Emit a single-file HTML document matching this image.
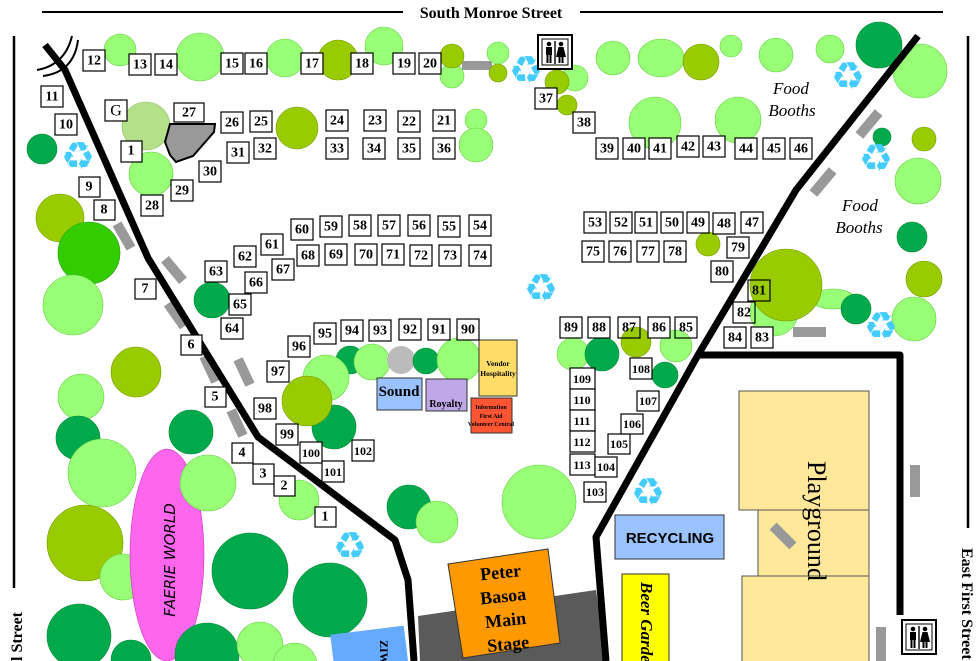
<!DOCTYPE html>
<html><head><meta charset="utf-8"><style>
html,body{margin:0;padding:0;background:#fff;}
svg{display:block;}
.b rect{fill:#fff;stroke:#000;stroke-width:1.2;}
.b text{font-family:"Liberation Serif",serif;font-weight:bold;font-size:14px;text-anchor:middle;dominant-baseline:central;}
.L{fill:#99ff77;stroke:#66cc44;stroke-width:.6}
.O{fill:#99cc00;stroke:#779900;stroke-width:.6}
.D{fill:#00aa4c;stroke:#008833;stroke-width:.6}
.rc{font-family:"DejaVu Sans",sans-serif;fill:#44ccff;font-size:38px;text-anchor:middle;dominant-baseline:central;}
.bench{fill:#999;}
</style></head><body>
<svg width="980" height="661" viewBox="0 0 980 661" xmlns="http://www.w3.org/2000/svg">
<defs>
<g id="wc">
<rect x="0" y="0" width="34" height="34" fill="#fff" stroke="#000" stroke-width="2"/>
<rect x="4" y="4" width="26" height="26" fill="#fff" stroke="#000" stroke-width="1"/>
<circle cx="11" cy="9" r="2.3"/><rect x="8" y="12" width="6" height="8"/><rect x="8.5" y="19" width="2" height="9"/><rect x="11.5" y="19" width="2" height="9"/>
<rect x="16.3" y="6" width="1.4" height="23"/>
<circle cx="23" cy="9" r="2.3"/><polygon points="20.5,12 25.5,12 28,22 18,22"/><rect x="20.5" y="21" width="2" height="7"/><rect x="23.5" y="21" width="2" height="7"/>
</g></defs>
<!-- streets -->
<line x1="42" y1="12" x2="403" y2="12" stroke="#000" stroke-width="2"/>
<line x1="580" y1="12" x2="943" y2="12" stroke="#000" stroke-width="2"/>
<text x="491" y="18" font-family="Liberation Serif,serif" font-weight="bold" font-size="16" text-anchor="middle">South Monroe Street</text>
<line x1="14" y1="36" x2="14" y2="588" stroke="#000" stroke-width="2.5"/>
<text transform="translate(22,661) rotate(-90)" font-family="Liberation Serif,serif" font-weight="bold" font-size="16">l Street</text>
<line x1="968" y1="36" x2="968" y2="528" stroke="#000" stroke-width="2.5"/>
<text transform="translate(962,548) rotate(90)" font-family="Liberation Serif,serif" font-weight="bold" font-size="16">East First Street</text>

<!-- benches -->
<g class="bench">
<rect x="-5" y="-14" width="10" height="28" transform="translate(124,236) rotate(-30)"/>
<rect x="-5" y="-14" width="10" height="28" transform="translate(174,270) rotate(-40)"/>
<rect x="-5" y="-14" width="10" height="28" transform="translate(176,315) rotate(-35)"/>
<rect x="-5" y="-14" width="10" height="28" transform="translate(210,369) rotate(-25)"/>
<rect x="-5" y="-14" width="10" height="28" transform="translate(244,372) rotate(-25)"/>
<rect x="-5" y="-14" width="10" height="28" transform="translate(237,423) rotate(-25)"/>
<rect x="462" y="61" width="30" height="9"/>
<rect x="-5" y="-15" width="10" height="30" transform="translate(869,124) rotate(40)"/>
<rect x="-5" y="-15" width="10" height="30" transform="translate(823,182) rotate(40)"/>
<rect x="793" y="327" width="33" height="10"/>
<rect x="910" y="465" width="10" height="32"/>
<rect x="876" y="627" width="10" height="34"/>
</g>

<!-- trees -->
<g>
<circle class="L" cx="120" cy="50" r="16"/>
<circle class="L" cx="200" cy="57" r="24"/>
<circle class="L" cx="285" cy="58" r="19"/>
<circle class="O" cx="338" cy="60" r="20"/>
<circle class="L" cx="384" cy="46" r="19"/>
<circle class="L" cx="452" cy="76" r="12"/>
<circle class="O" cx="452" cy="56" r="12"/>
<circle class="L" cx="498" cy="53" r="11"/>
<circle class="O" cx="498" cy="73" r="9"/>
<circle class="L" cx="575" cy="78" r="13"/>
<circle class="O" cx="557" cy="82" r="12"/>
<circle class="O" cx="567" cy="105" r="10"/>
<circle class="L" cx="613" cy="58" r="17"/>
<ellipse class="L" cx="661" cy="58" rx="23" ry="19"/>
<circle class="O" cx="701" cy="62" r="18"/>
<circle class="L" cx="731" cy="46" r="11"/>
<circle class="L" cx="776" cy="55" r="17"/>
<circle class="L" cx="830" cy="49" r="14"/>
<circle class="D" cx="879" cy="45" r="23"/>
<circle class="L" cx="920" cy="71" r="27"/>
<circle class="L" cx="655" cy="123" r="26"/>
<circle class="L" cx="738" cy="120" r="23"/>
<circle class="L" cx="476" cy="120" r="11"/>
<circle class="L" cx="476" cy="145" r="17"/>
<circle class="O" cx="297" cy="128" r="21"/>
<circle class="D" cx="882" cy="137" r="9"/>
<circle class="O" cx="924" cy="139" r="12"/>
<circle class="L" cx="918" cy="181" r="23"/>
<circle class="D" cx="912" cy="237" r="15"/>
<circle class="O" cx="924" cy="279" r="18"/>
<ellipse class="L" cx="833" cy="299" rx="22" ry="10"/>
<circle class="L" cx="914" cy="319" r="22"/>
<circle class="L" cx="774" cy="312" r="24"/>
<circle class="O" cx="786" cy="285" r="36"/>
<circle class="D" cx="856" cy="309" r="15"/>
<circle class="O" cx="708" cy="244" r="12"/>
<circle fill="#b5e08a" stroke="#8cbf60" stroke-width=".6" cx="146" cy="126" r="24"/>
<circle class="L" cx="151" cy="174" r="22"/>
<circle class="D" cx="42" cy="149" r="15"/>
<circle class="O" cx="60" cy="218" r="24"/>
<circle fill="#33cc00" stroke="#229900" stroke-width=".6" cx="89" cy="253" r="31"/>
<circle class="L" cx="73" cy="305" r="30"/>
<circle class="D" cx="212" cy="300" r="18"/>
<circle class="O" cx="136" cy="372" r="25"/>
<circle class="L" cx="81" cy="397" r="23"/>
<circle class="D" cx="78" cy="438" r="22"/>
<circle class="L" cx="102" cy="473" r="34"/>
<circle class="D" cx="191" cy="432" r="22"/>
<circle class="O" cx="85" cy="543" r="38"/>
<circle class="L" cx="123" cy="577" r="23"/>
<circle class="D" cx="79" cy="636" r="32"/>
<circle class="D" cx="131" cy="660" r="20"/>
</g>

<!-- faerie world -->
<ellipse cx="167" cy="555" rx="37" ry="106" fill="#ff66ee" stroke="#cc33bb" stroke-width=".6"/>
<circle class="L" cx="208" cy="483" r="28"/>
<text transform="translate(175,560) rotate(-90)" font-family="DejaVu Sans,sans-serif" font-style="italic" font-size="15" text-anchor="middle">FAERIE WORLD</text>
<circle class="D" cx="207" cy="655" r="32"/>
<circle class="D" cx="250" cy="571" r="38"/>
<circle class="L" cx="260" cy="645" r="23"/>
<circle class="L" cx="295" cy="665" r="22"/>
<circle class="D" cx="330" cy="600" r="37"/>
<circle class="L" cx="299" cy="500" r="20"/>
<circle class="D" cx="409" cy="507" r="22"/>
<circle class="L" cx="437" cy="522" r="21"/>
<circle class="L" cx="539" cy="502" r="37"/>
<circle class="D" cx="350" cy="360" r="14"/>
<circle class="L" cx="372" cy="362" r="18"/>
<circle fill="#bbb" cx="401" cy="360" r="14"/>
<circle class="D" cx="426" cy="361" r="13"/>
<circle class="L" cx="459" cy="360" r="22"/>
<circle class="L" cx="326" cy="378" r="23"/>
<circle class="D" cx="334" cy="427" r="22"/>
<circle class="O" cx="307" cy="401" r="25"/>
<circle class="L" cx="573" cy="354" r="16"/>
<circle class="D" cx="602" cy="354" r="17"/>
<circle class="O" cx="636" cy="342" r="15"/>
<circle class="L" cx="676" cy="346" r="16"/>
<circle class="D" cx="665" cy="375" r="13"/>

<!-- ziwa -->
<rect x="-37" y="-25" width="74" height="60" fill="#66aaff" transform="translate(370,655) rotate(-7)"/>
<text transform="translate(380,640) rotate(90)" font-family="Liberation Serif,serif" font-weight="bold" font-size="12">ZIWA</text>

<!-- stage -->
<polygon points="418,616 596,590 606,661 420,661" fill="#5a5a5a"/>
<polygon points="448,564 548,549 560,643 463,658" fill="#ff9900" stroke="#333" stroke-width="1"/>
<g font-family="Liberation Serif,serif" font-weight="bold" font-size="18" text-anchor="middle" transform="rotate(-6 505 605)">
<text x="504" y="578">Peter</text><text x="504" y="602">Basoa</text><text x="504" y="626">Main</text><text x="504" y="650">Stage</text></g>

<!-- paths -->
<g fill="none" stroke="#000" stroke-width="7" stroke-linejoin="round">
<polyline points="45,45 65,70 148,258 258,437 395,540 408,580 414,661"/>
<polyline points="918,36 796,190 698,355 596,537 606,661"/>
<polyline points="698,355 900,355 900,615"/>
</g>
<path d="M37,70 Q65,65 72,36" fill="none" stroke="#000" stroke-width="2"/>
<path d="M43,76 Q74,72 78,40" fill="none" stroke="#000" stroke-width="2"/>

<!-- building 27 -->
<path d="M170,124 L215,124 L214,132 L207,140 L200,148 L193,156 L176,162 L170,155 L165,142 Z" fill="#999" stroke="#000" stroke-width="2"/>

<!-- tents -->
<rect x="377" y="378" width="45" height="32" fill="#99c2ff" stroke="#333"/>
<text x="399" y="396" font-family="Liberation Serif,serif" font-weight="bold" font-size="15" text-anchor="middle">Sound</text>
<rect x="426" y="379" width="41" height="32" fill="#c0a8e8" stroke="#333"/>
<text x="446" y="407" font-family="Liberation Serif,serif" font-weight="bold" font-size="10" text-anchor="middle">Royalty</text>
<rect x="479" y="340" width="38" height="56" fill="#ffdd66" stroke="#333"/>
<text x="498" y="366" font-family="Liberation Serif,serif" font-weight="bold" font-size="7.5" text-anchor="middle">Vendor</text>
<text x="498" y="376" font-family="Liberation Serif,serif" font-weight="bold" font-size="7.5" text-anchor="middle">Hospitality</text>
<rect x="471" y="398" width="41" height="35" fill="#ff5533" stroke="#333"/>
<g font-family="Liberation Serif,serif" font-weight="bold" font-size="6" text-anchor="middle"><text x="491" y="409">Information</text><text x="491" y="418">First Aid</text><text x="491" y="426">Volunteer Central</text></g>
<rect x="615" y="515" width="109" height="44" fill="#99c2ff" stroke="#333"/>
<text x="670" y="543" font-family="Liberation Sans,sans-serif" font-weight="bold" font-size="15" text-anchor="middle">RECYCLING</text>
<rect x="622" y="574" width="47" height="90" fill="#ffff00" stroke="#333"/>
<text transform="translate(641,582) rotate(90)" font-family="Liberation Serif,serif" font-weight="bold" font-style="italic" font-size="17">Beer Garden</text>
<g fill="#ffe899" stroke="#555" stroke-width="1">
<rect x="739" y="391" width="130" height="119"/><rect x="758" y="510" width="111" height="66"/><rect x="742" y="576" width="127" height="90"/></g>
<rect x="-5" y="-14" width="10" height="28" class="bench" transform="translate(783,536) rotate(-45)"/>
<text transform="translate(808,461) rotate(90)" font-family="Liberation Serif,serif" font-size="26">Playground</text>

<g font-family="Liberation Serif,serif" font-style="italic" font-size="17" text-anchor="middle">
<text x="791" y="94">Food</text><text x="792" y="116">Booths</text>
<text x="860" y="211">Food</text><text x="859" y="233">Booths</text></g>

<!-- recycle -->
<g class="rc"><text x="78" y="156">♻</text><text x="526" y="70">♻</text><text x="848" y="76">♻</text><text x="876" y="158">♻</text><text x="541" y="288">♻</text><text x="881" y="326">♻</text><text x="350" y="546">♻</text><text x="648" y="492">♻</text></g>

<!-- restrooms -->
<use href="#wc" x="538" y="35"/>
<use href="#wc" x="902" y="620"/>

<!-- booths -->
<g class="b">
<g transform="translate(94,61)"><rect x="-11" y="-11" width="22" height="21"/><text>12</text></g>
<g transform="translate(140,65)"><rect x="-11" y="-11" width="22" height="21"/><text>13</text></g>
<g transform="translate(166,65)"><rect x="-11" y="-11" width="22" height="21"/><text>14</text></g>
<g transform="translate(232,64)"><rect x="-11" y="-11" width="22" height="21"/><text>15</text></g>
<g transform="translate(256,64)"><rect x="-11" y="-11" width="22" height="21"/><text>16</text></g>
<g transform="translate(312,64)"><rect x="-11" y="-11" width="22" height="21"/><text>17</text></g>
<g transform="translate(362,64)"><rect x="-11" y="-11" width="22" height="21"/><text>18</text></g>
<g transform="translate(404,64)"><rect x="-11" y="-11" width="22" height="21"/><text>19</text></g>
<g transform="translate(430,64)"><rect x="-11" y="-11" width="22" height="21"/><text>20</text></g>
<g transform="translate(52,97)"><rect x="-11" y="-11" width="22" height="21"/><text>11</text></g>
<g transform="translate(66,125)"><rect x="-11" y="-11" width="22" height="21"/><text>10</text></g>
<g transform="translate(116,111)"><rect x="-11" y="-11" width="22" height="21"/><text style="font-weight:normal;font-size:16px">G</text></g>
<g transform="translate(189,113)"><rect x="-15" y="-10" width="30" height="19"/><text>27</text></g>
<g transform="translate(232,123)"><rect x="-11" y="-11" width="22" height="21"/><text>26</text></g>
<g transform="translate(261,122)"><rect x="-11" y="-11" width="22" height="21"/><text>25</text></g>
<g transform="translate(337,121)"><rect x="-11" y="-11" width="22" height="21"/><text>24</text></g>
<g transform="translate(375,121)"><rect x="-11" y="-11" width="22" height="21"/><text>23</text></g>
<g transform="translate(409,122)"><rect x="-11" y="-11" width="22" height="21"/><text>22</text></g>
<g transform="translate(444,121)"><rect x="-11" y="-11" width="22" height="21"/><text>21</text></g>
<g transform="translate(131,151)"><rect x="-10" y="-10" width="21" height="21"/><text>1</text></g>
<g transform="translate(238,153)"><rect x="-11" y="-11" width="22" height="21"/><text>31</text></g>
<g transform="translate(265,149)"><rect x="-11" y="-11" width="22" height="21"/><text>32</text></g>
<g transform="translate(337,149)"><rect x="-11" y="-11" width="22" height="21"/><text>33</text></g>
<g transform="translate(374,149)"><rect x="-11" y="-11" width="22" height="21"/><text>34</text></g>
<g transform="translate(409,149)"><rect x="-11" y="-11" width="22" height="21"/><text>35</text></g>
<g transform="translate(444,149)"><rect x="-11" y="-11" width="22" height="21"/><text>36</text></g>
<g transform="translate(210,172)"><rect x="-11" y="-11" width="22" height="21"/><text>30</text></g>
<g transform="translate(182,191)"><rect x="-11" y="-11" width="22" height="21"/><text>29</text></g>
<g transform="translate(152,206)"><rect x="-11" y="-11" width="22" height="21"/><text>28</text></g>
<g transform="translate(89,187)"><rect x="-10" y="-10" width="21" height="20"/><text>9</text></g>
<g transform="translate(104,210)"><rect x="-10" y="-10" width="21" height="20"/><text>8</text></g>
<g transform="translate(302,230)"><rect x="-11" y="-11" width="22" height="21"/><text>60</text></g>
<g transform="translate(331,227)"><rect x="-11" y="-11" width="22" height="21"/><text>59</text></g>
<g transform="translate(360,226)"><rect x="-11" y="-11" width="22" height="21"/><text>58</text></g>
<g transform="translate(389,226)"><rect x="-11" y="-11" width="22" height="21"/><text>57</text></g>
<g transform="translate(419,226)"><rect x="-11" y="-11" width="22" height="21"/><text>56</text></g>
<g transform="translate(449,227)"><rect x="-11" y="-11" width="22" height="21"/><text>55</text></g>
<g transform="translate(480,226)"><rect x="-11" y="-11" width="22" height="21"/><text>54</text></g>
<g transform="translate(272,245)"><rect x="-11" y="-11" width="22" height="21"/><text>61</text></g>
<g transform="translate(245,257)"><rect x="-11" y="-11" width="22" height="21"/><text>62</text></g>
<g transform="translate(308,256)"><rect x="-11" y="-11" width="22" height="21"/><text>68</text></g>
<g transform="translate(336,255)"><rect x="-11" y="-11" width="22" height="21"/><text>69</text></g>
<g transform="translate(366,255)"><rect x="-11" y="-11" width="22" height="21"/><text>70</text></g>
<g transform="translate(393,255)"><rect x="-11" y="-11" width="22" height="21"/><text>71</text></g>
<g transform="translate(421,256)"><rect x="-11" y="-11" width="22" height="21"/><text>72</text></g>
<g transform="translate(450,256)"><rect x="-11" y="-11" width="22" height="21"/><text>73</text></g>
<g transform="translate(480,256)"><rect x="-11" y="-11" width="22" height="21"/><text>74</text></g>
<g transform="translate(216,272)"><rect x="-11" y="-11" width="22" height="21"/><text>63</text></g>
<g transform="translate(283,270)"><rect x="-11" y="-11" width="22" height="21"/><text>67</text></g>
<g transform="translate(256,283)"><rect x="-11" y="-11" width="22" height="21"/><text>66</text></g>
<g transform="translate(240,305)"><rect x="-11" y="-11" width="22" height="21"/><text>65</text></g>
<g transform="translate(232,329)"><rect x="-11" y="-11" width="22" height="21"/><text>64</text></g>
<g transform="translate(145,289)"><rect x="-10" y="-10" width="21" height="20"/><text>7</text></g>
<g transform="translate(191,345)"><rect x="-10" y="-10" width="21" height="20"/><text>6</text></g>
<g transform="translate(215,397)"><rect x="-10" y="-10" width="21" height="20"/><text>5</text></g>
<g transform="translate(242,453)"><rect x="-10" y="-10" width="21" height="20"/><text>4</text></g>
<g transform="translate(263,474)"><rect x="-10" y="-10" width="21" height="20"/><text>3</text></g>
<g transform="translate(284,486)"><rect x="-10" y="-10" width="21" height="20"/><text>2</text></g>
<g transform="translate(325,517)"><rect x="-10" y="-10" width="21" height="20"/><text>1</text></g>
<g transform="translate(325,334)"><rect x="-11" y="-11" width="22" height="21"/><text>95</text></g>
<g transform="translate(352,331)"><rect x="-11" y="-11" width="22" height="21"/><text>94</text></g>
<g transform="translate(380,331)"><rect x="-11" y="-11" width="22" height="21"/><text>93</text></g>
<g transform="translate(410,330)"><rect x="-11" y="-11" width="22" height="21"/><text>92</text></g>
<g transform="translate(439,330)"><rect x="-11" y="-11" width="22" height="21"/><text>91</text></g>
<g transform="translate(468,330)"><rect x="-11" y="-11" width="22" height="21"/><text>90</text></g>
<g transform="translate(299,347)"><rect x="-11" y="-11" width="22" height="21"/><text>96</text></g>
<g transform="translate(278,372)"><rect x="-11" y="-11" width="22" height="21"/><text>97</text></g>
<g transform="translate(265,409)"><rect x="-11" y="-11" width="22" height="21"/><text>98</text></g>
<g transform="translate(287,435)"><rect x="-11" y="-11" width="22" height="21"/><text>99</text></g>
<g transform="translate(311,453)"><rect x="-11" y="-11" width="22" height="21"/><text style="font-size:12px">100</text></g>
<g transform="translate(333,472)"><rect x="-11" y="-11" width="22" height="21"/><text style="font-size:12px">101</text></g>
<g transform="translate(363,451)"><rect x="-11" y="-11" width="22" height="21"/><text style="font-size:12px">102</text></g>
<g transform="translate(571,328)"><rect x="-11" y="-11" width="22" height="21"/><text>89</text></g>
<g transform="translate(599,328)"><rect x="-11" y="-11" width="22" height="21"/><text>88</text></g>
<g transform="translate(629,328)"><rect x="-11" y="-11" width="22" height="21" style="fill:none"/><text>87</text></g>
<g transform="translate(659,328)"><rect x="-11" y="-11" width="22" height="21"/><text>86</text></g>
<g transform="translate(686,328)"><rect x="-11" y="-11" width="22" height="21" style="fill:none"/><text>85</text></g>
<g transform="translate(641,369)"><rect x="-11" y="-11" width="22" height="21"/><text style="font-size:12px">108</text></g>
<g transform="translate(582,379)"><rect x="-12" y="-11" width="25" height="21"/><text style="font-size:12px">109</text></g>
<g transform="translate(582,400)"><rect x="-12" y="-11" width="25" height="21"/><text style="font-size:12px">110</text></g>
<g transform="translate(582,421)"><rect x="-12" y="-11" width="25" height="21"/><text style="font-size:12px">111</text></g>
<g transform="translate(582,442)"><rect x="-12" y="-11" width="25" height="21"/><text style="font-size:12px">112</text></g>
<g transform="translate(582,465)"><rect x="-12" y="-11" width="25" height="21"/><text style="font-size:12px">113</text></g>
<g transform="translate(606,467)"><rect x="-11" y="-10" width="22" height="20"/><text style="font-size:12px">104</text></g>
<g transform="translate(619,444)"><rect x="-11" y="-10" width="22" height="20"/><text style="font-size:12px">105</text></g>
<g transform="translate(632,424)"><rect x="-11" y="-10" width="22" height="20"/><text style="font-size:12px">106</text></g>
<g transform="translate(648,401)"><rect x="-11" y="-10" width="22" height="20"/><text style="font-size:12px">107</text></g>
<g transform="translate(595,492)"><rect x="-11" y="-10" width="22" height="20"/><text style="font-size:12px">103</text></g>
<g transform="translate(546,99)"><rect x="-11" y="-11" width="22" height="21"/><text>37</text></g>
<g transform="translate(584,123)"><rect x="-11" y="-11" width="22" height="21"/><text>38</text></g>
<g transform="translate(607,149)"><rect x="-11" y="-11" width="22" height="21"/><text>39</text></g>
<g transform="translate(634,149)"><rect x="-11" y="-11" width="22" height="21"/><text>40</text></g>
<g transform="translate(660,149)"><rect x="-11" y="-11" width="22" height="21"/><text>41</text></g>
<g transform="translate(688,147)"><rect x="-11" y="-11" width="22" height="21"/><text>42</text></g>
<g transform="translate(714,147)"><rect x="-11" y="-11" width="22" height="21"/><text>43</text></g>
<g transform="translate(746,149)"><rect x="-11" y="-11" width="22" height="21"/><text>44</text></g>
<g transform="translate(774,149)"><rect x="-11" y="-11" width="22" height="21"/><text>45</text></g>
<g transform="translate(801,149)"><rect x="-11" y="-11" width="22" height="21"/><text>46</text></g>
<g transform="translate(595,223)"><rect x="-11" y="-11" width="22" height="21"/><text>53</text></g>
<g transform="translate(621,223)"><rect x="-11" y="-11" width="22" height="21"/><text>52</text></g>
<g transform="translate(646,223)"><rect x="-11" y="-11" width="22" height="21"/><text>51</text></g>
<g transform="translate(672,223)"><rect x="-11" y="-11" width="22" height="21"/><text>50</text></g>
<g transform="translate(698,223)"><rect x="-11" y="-11" width="22" height="21"/><text>49</text></g>
<g transform="translate(724,224)"><rect x="-11" y="-11" width="22" height="21"/><text>48</text></g>
<g transform="translate(752,223)"><rect x="-11" y="-11" width="22" height="21"/><text>47</text></g>
<g transform="translate(593,252)"><rect x="-11" y="-11" width="22" height="21"/><text>75</text></g>
<g transform="translate(620,252)"><rect x="-11" y="-11" width="22" height="21"/><text>76</text></g>
<g transform="translate(648,252)"><rect x="-11" y="-11" width="22" height="21"/><text>77</text></g>
<g transform="translate(675,252)"><rect x="-11" y="-11" width="22" height="21"/><text>78</text></g>
<g transform="translate(738,248)"><rect x="-11" y="-11" width="22" height="21"/><text>79</text></g>
<g transform="translate(722,272)"><rect x="-11" y="-11" width="22" height="21"/><text>80</text></g>
<g transform="translate(759,291)"><rect x="-11" y="-11" width="22" height="21" style="fill:none"/><text>81</text></g>
<g transform="translate(744,313)"><rect x="-11" y="-11" width="22" height="21" style="fill:none"/><text>82</text></g>
<g transform="translate(735,338)"><rect x="-11" y="-11" width="22" height="21"/><text>84</text></g>
<g transform="translate(762,338)"><rect x="-11" y="-11" width="22" height="21"/><text>83</text></g>
</g>
</svg>
</body></html>
